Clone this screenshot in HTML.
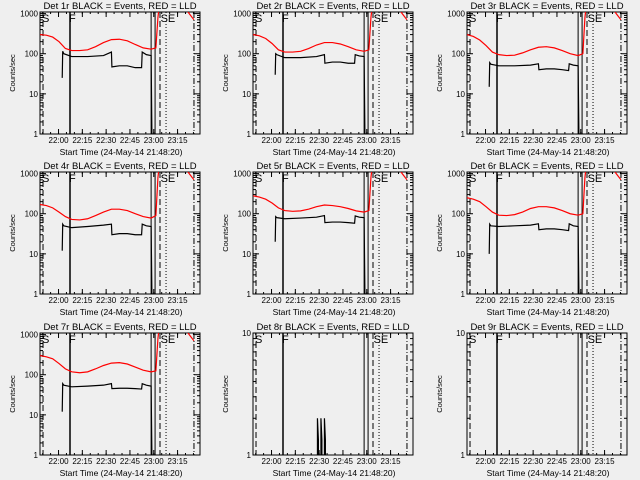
<!DOCTYPE html>
<html><head><meta charset="utf-8"><style>
html,body{margin:0;padding:0;background:#efefef;}
svg{display:block;font-family:"Liberation Sans",sans-serif;}
</style></head><body>
<svg id="chart" width="640" height="480" viewBox="0 0 640 480" xmlns="http://www.w3.org/2000/svg">
<rect x="0" y="0" width="640" height="480" fill="#efefef"/>
</svg>
<script>
// ---- data (minutes since 21:48:20) ----
const detNames = ["1r","2r","3r","4r","5r","6r","7r","8r","9r"];
const xTickLabels = ["22:00","22:15","22:30","22:45","23:00","23:15"];
const xTickMinutes = [11.67,26.67,41.67,56.67,71.67,86.67];
const redTimes = [0,4,8,12,16,20,25,30,35,40,45,50,55,60,65,70,73,74.3,75];
const red1 = [300,290,260,200,135,120,120,125,150,190,225,230,210,170,140,130,140,800,1400];
const red2 = [300,280,240,180,125,110,110,115,135,165,190,190,175,150,125,115,125,800,1400];
const red3 = [300,270,220,160,110,95,90,92,105,125,145,150,140,120,100,90,100,800,1400];
const red4 = [170,160,140,110,85,72,70,75,90,110,130,130,120,100,85,78,90,800,1400];
const red5 = [280,260,230,185,140,120,115,118,130,150,165,160,150,135,118,110,120,800,1400];
const red6 = [250,230,200,150,110,92,90,95,110,135,150,150,140,120,100,92,100,800,1400];
const red7 = [300,280,250,190,140,118,112,118,140,170,195,200,185,155,130,118,125,800,1400];
const redTailTimes = [91,94,97];
const redTail = [1500,1000,700];
const blkTimes = [14,14.3,15,20,30,40,45,45.3,50,55,60,64,64.4,67,70,70.5,71.5,72.5,73];
const blk1 = [25,115,100,85,85,90,110,47,50,50,45,45,110,95,90,1,1,1,1];
const blk2 = [30,100,95,80,80,85,95,58,62,62,58,58,95,88,85,1,1,1,1];
const blk3 = [15,60,55,50,50,52,56,40,42,42,40,38,56,52,50,1,1,1,1];
const blk4 = [12,55,50,45,48,52,55,30,32,32,30,30,55,50,48,1,1,1,1];
const blk5 = [20,85,80,75,78,82,90,60,62,62,60,58,88,82,80,1,1,1,1];
const blk6 = [10,55,50,48,50,52,56,40,42,42,40,38,56,50,48,1,1,1,1];
const blk7 = [12,60,55,50,52,55,60,45,46,46,45,44,60,55,52,1,1,1,1];
const spikeTimes = [40.6,40.6,41.2,41.2,42.8,42.8,43.4,43.4,45.0,45.0,45.6,45.6];
const spikeVals = [1,2,1.33,1,1,2,1.33,1,1,2,1.33,1];
const redSeries = [red1,red2,red3,red4,red5,red6,red7,null,null];
const blkSeries = [blk1,blk2,blk3,blk4,blk5,blk6,blk7,null,null];
const markerTimes = {S:1.9,F:18.9,L1:70,L2:72.5,SE:75.6,DOT:79.4,DD:97};

const svg = document.getElementById('chart');
const NS = "http://www.w3.org/2000/svg";
function mk(tag, attrs, parent){const e=document.createElementNS(NS,tag);for(const k in attrs)e.setAttribute(k,attrs[k]);(parent||svg).appendChild(e);return e;}

detNames.forEach((det,i)=>{
  const ox = Math.round((i%3)*213.33), oy = Math.floor(i/3)*160 + (i>=6?1:0);
  const L=ox+40, R=ox+200, T=oy+12, B=oy+134;
  const small = i>=7;
  const yMin=0, yMax = small?1.0:3.04;
  const xs = t => L + t*(R-L)/100.8;
  const ys = v => B - (Math.log10(v)-yMin)/(yMax-yMin)*(B-T);
  const g = mk('g',{});
  
  
  const clipId='clip'+i;
  const cp=mk('clipPath',{id:clipId},g);mk('rect',{x:L,y:T,width:R-L,height:B-T},cp);
  // title
  const tt=mk('text',{x:ox+120,y:oy+9,'text-anchor':'middle','font-size':'9.5'},g);
  tt.textContent='Det '+det+' BLACK = Events, RED = LLD';
  
  
  // y label
  const yl=mk('text',{x:0,y:0,'text-anchor':'middle','font-size':'7.5',transform:`translate(${ox+15},${(T+B)/2}) rotate(-90)`},g);
  yl.textContent='Counts/sec';
  
  
  // x title
  const xl=mk('text',{x:ox+121,y:oy+155,'text-anchor':'middle','font-size':'8.5'},g);
  xl.textContent='Start Time (24-May-14 21:48:20)';
  
  
  // y ticks
  const decades = small?[1,10]:[1,10,100,1000];
  const decLabels = small?["1","10"]:["1","10","100","1000"];
  decades.forEach((d,k)=>{
    const y=ys(d);
    mk('line',{x1:L,x2:L+6,y1:y,y2:y,stroke:'#000'},g);
    mk('line',{x1:R,x2:R-6,y1:y,y2:y,stroke:'#000'},g);
    const lt=mk('text',{x:L-2,y:y+3,'text-anchor':'end','font-size':'8'},g);
    lt.textContent=decLabels[k];
    
    
    if(k<decades.length-1 || small){for(let m=2;m<=9;m++){const v=d*m; if(Math.log10(v)>yMax)break; const yy=ys(v);
      mk('line',{x1:L,x2:L+3,y1:yy,y2:yy,stroke:'#000'},g);mk('line',{x1:R,x2:R-3,y1:yy,y2:yy,stroke:'#000'},g);}}
  });
  // x ticks
  xTickMinutes.forEach((t,k)=>{
    const x=xs(t);
    mk('line',{x1:x,x2:x,y1:B,y2:B-5,stroke:'#000'},g);
    mk('line',{x1:x,x2:x,y1:T,y2:T+5,stroke:'#000'},g);
    const lt=mk('text',{x:x,y:B+9,'text-anchor':'middle','font-size':'8'},g);
    lt.textContent=xTickLabels[k];
    
    
  });
  for(let t=1.67;t<100;t+=5){const x=xs(t);mk('line',{x1:x,x2:x,y1:B,y2:B-2,stroke:'#000'},g);mk('line',{x1:x,x2:x,y1:T,y2:T+2,stroke:'#000'},g);}
  // box
  const bx=mk('rect',{x:L,y:T,width:R-L,height:B-T,fill:'none',stroke:'#000','stroke-width':1},g);
  
  
  const cg=mk('g',{'clip-path':`url(#${clipId})`},g);
  // markers
  const vl=(t,dash,w)=>{const x=xs(t);const l=mk('line',{x1:x,x2:x,y1:T,y2:B,stroke:'#000','stroke-width':w||1,'stroke-dasharray':dash||'none'},cg);};
  vl(markerTimes.S,'6,3');vl(markerTimes.F,'none',1.5);vl(markerTimes.L1,'none',1);vl(markerTimes.L2,'none',1);
  vl(markerTimes.SE,'6,3');vl(markerTimes.DOT,'1,2');vl(markerTimes.DD,'6,2,1,2');
  [['S',markerTimes.S],['F',markerTimes.F],['SE',markerTimes.SE+1]].forEach(([s,t])=>{
    const lt=mk('text',{x:xs(t)-1,y:T+10,'font-size':'11'},g);lt.textContent=s;
    
    
  });
  const poly=(tt,vv,col,name)=>{const p=mk('polyline',{points:tt.map((t,k)=>xs(t)+','+ys(vv[k])).join(' '),fill:'none',stroke:col,'stroke-width':1.2},cg);};
  if(redSeries[i]){
    poly(blkTimes,blkSeries[i],'#000','events-series');
    poly(redTimes,redSeries[i],'#ff0000','lld-series');
    poly(redTailTimes,redTail,'#ff0000','lld-series-tail');
  }
  if(i===7){poly(spikeTimes,spikeVals,'#000','events-spikes');}
});
</script>
</body></html>
